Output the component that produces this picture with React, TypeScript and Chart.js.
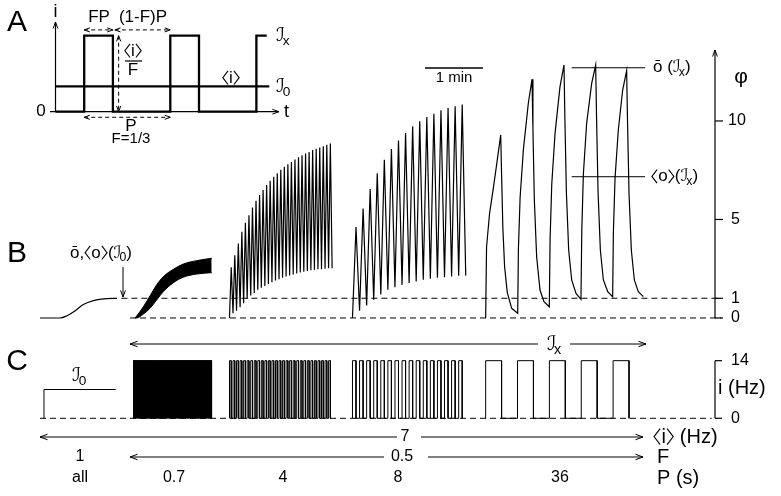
import React, { useEffect, useRef } from "react";
import { Chart, registerables } from "chart.js";
Chart.register(...registerables);

const FONT = '"Liberation Sans", Arial, "DejaVu Sans", sans-serif';

// ---------- Panel A (schematic; t in units of P/3, i in units of <i>) ----------
const A_ONSETS = [1, 4, 7];
const A_FP = 1;
const A_JX = 3;
const A_J0 = 1;
const A_END = 7.36;
const A_J0_END = 7.45;

// ---------- Panel C (stimulus, time in s, rate in Hz) ----------
const C_J0 = [4.5, 85.6];
const C_J0_RATE = 7;
const C_JX_RATE = 14;
const C_F = 0.5;
const C_TRAIN_START = [105.1, 214.1, 353.1, 503.6];
const C_TRAIN_P = [0.7, 4, 8, 36];
const C_TRAIN_N = [128, 29, 16, 5];
const C_BASE = [0, 759];
const C_TICKS = [0, 14];

// ---------- Panel B (response phi) ----------
const B_J0_T = [0, 22.6, 30, 37.7, 49, 60.3, 71.6, 87];
const B_J0_V = [0, 0, 0.1, 0.3, 0.68, 0.88, 0.97, 1.0];

const BAND_T = [107.4, 109.2, 116.8, 124.3, 131.8, 139.4, 150.7, 162, 177, 194];
const BAND_UP = [0, 0.1, 0.57, 1.12, 1.68, 2.1, 2.47, 2.74, 2.91, 3.03];
const BAND_LO = [0, 0, 0.2, 0.49, 0.91, 1.34, 1.79, 2.07, 2.23, 2.3];

const PEAKS_4 = [2.58, 3.18, 3.78, 4.37, 4.83, 5.22, 5.61, 5.95, 6.24, 6.5, 6.75, 6.97, 7.17, 7.35, 7.52, 7.67, 7.8, 7.92, 8.04, 8.16, 8.26, 8.35, 8.43, 8.52, 8.59, 8.65, 8.72, 8.79, 8.86];
const TROUGHS_4 = [0.24, 0.37, 0.54, 0.75, 0.97, 1.14, 1.27, 1.43, 1.53, 1.63, 1.73, 1.82, 1.9, 1.97, 2.04, 2.11, 2.16, 2.21, 2.26, 2.31, 2.35, 2.38, 2.42, 2.45, 2.47, 2.48, 2.5, 2.52, 2.53];

const PEAKS_8 = [4.62, 5.56, 6.55, 7.35, 8.03, 8.57, 9.01, 9.39, 9.73, 9.98, 10.2, 10.37, 10.54, 10.66, 10.75, 10.83];
const TROUGHS_8 = [0.37, 0.63, 0.92, 1.19, 1.43, 1.56, 1.68, 1.77, 1.85, 1.94, 1.99, 2.04, 2.07, 2.11, 2.14, 2.15];

const RESP36_T = [503.6, 504.6, 508, 512.3, 516.5, 520.6, 521.6, 523, 525, 528, 533, 539.8,
  540.6, 542.5, 546.2, 551.8, 556, 557, 558.6, 561.2, 565, 569.5, 575.5,
  576.4, 578.3, 582, 587.6, 592.1, 593.1, 594.8, 597.4, 600.8, 605.7, 611.3,
  612.2, 614, 617.7, 623.4, 627.9, 628.9, 630.6, 633.2, 636.6, 641.5, 647.1,
  647.9, 649.8, 653.5, 658.4, 662.9, 663.9, 665.6, 668.2, 671.6, 676.1, 681.8];
const RESP36_V = [0, 3.6, 5.3, 6.6, 7.95, 9.29, 7.3, 4.6, 2.6, 1.3, 0.49, 0.24,
  3.5, 6.1, 8.53, 10.9, 12.12, 9.6, 6.0, 3.11, 1.42, 0.83, 0.57,
  4.0, 6.8, 9.37, 11.74, 12.84, 10.2, 6.4, 3.45, 1.93, 1.25, 0.95,
  4.4, 7.3, 9.88, 11.91, 12.84, 10.2, 6.4, 3.45, 1.93, 1.34, 1.08,
  4.3, 7.1, 9.54, 11.57, 12.55, 10.0, 6.3, 3.45, 1.93, 1.34, 1.08];

const B_LEVELS = [0, 1];
const B_LEVEL_FROM = [101.7, 92];
const B_LEVEL_TO = 770;
const B_REF_LEVELS = [12.7, 7.17];
const B_REF_SPAN = [600.8, 683.7];
const B_TICKS = [0, 1, 5, 10];
const SCALE_BAR = [435, 500.6];

function squareTrain(start: number, period: number, count: number, amp: number) {
  const pts: any[] = [];
  for (let k = 0; k < count; k++) {
    const on = start + k * period;
    const off = on + period * C_F;
    pts.push({ x: on, y: 0 }, { x: on, y: amp }, { x: off, y: amp }, { x: off, y: 0 });
  }
  return pts;
}

function teeth(start: number, period: number, peaks: number[], troughs: number[]) {
  const pts: any[] = [{ x: start, y: 0 }];
  for (let k = 0; k < peaks.length; k++) {
    const on = start + k * period;
    pts.push({ x: on + period * C_F, y: peaks[k] });
    pts.push({ x: on + period, y: troughs[k] });
  }
  return pts;
}

const zip = (xs: number[], ys: number[]) => xs.map((x, i) => ({ x, y: ys[i] }));

function ds(data: any[], extra: any = {}) {
  return {
    data,
    borderColor: "#000",
    backgroundColor: "#000",
    borderWidth: 1.2,
    pointRadius: 0,
    fill: false,
    tension: 0,
    xAxisID: "x",
    yAxisID: "yB",
    ...extra,
  };
}

const annotPlugin = {
  id: "annot",
  afterDatasetsDraw(chart: any) {
    const ctx = chart.ctx;
    const sc = chart.scales;
    const X = (v: number) => sc.x.getPixelForValue(v);
    const YB = (v: number) => sc.yB.getPixelForValue(v);
    const YC = (v: number) => sc.yC.getPixelForValue(v);
    const XA = (v: number) => sc.xA.getPixelForValue(v);
    const YA = (v: number) => sc.yA.getPixelForValue(v);
    ctx.save();
    ctx.strokeStyle = "#000";
    ctx.fillStyle = "#000";
    const line = (x1: number, y1: number, x2: number, y2: number, w = 1, dash: number[] = []) => {
      ctx.save();
      ctx.lineWidth = w;
      ctx.setLineDash(dash);
      ctx.beginPath();
      ctx.moveTo(x1, y1);
      ctx.lineTo(x2, y2);
      ctx.stroke();
      ctx.restore();
    };
    const head = (x: number, y: number, ang: number, size = 7, w = 1) => {
      ctx.save();
      ctx.lineWidth = w;
      ctx.setLineDash([]);
      ctx.beginPath();
      ctx.moveTo(x - size * Math.cos(ang - 0.35), y - size * Math.sin(ang - 0.35));
      ctx.lineTo(x, y);
      ctx.lineTo(x - size * Math.cos(ang + 0.35), y - size * Math.sin(ang + 0.35));
      ctx.stroke();
      ctx.restore();
    };
    const text = (s: string, x: number, y: number, size: number, align: any = "center") => {
      ctx.font = `${size}px ${FONT}`;
      ctx.textAlign = align;
      ctx.textBaseline = "middle";
      ctx.fillText(s, x, y);
    };
    // rich text: strings, {sub} = script J with subscript, "<" / ">" tokens as angle brackets
    const measure = (p: any, size: number) => {
      if (p === "<" || p === ">") return size * 0.42;
      ctx.font = `${size}px ${FONT}`;
      if (typeof p === "string") return ctx.measureText(p).width;
      const w1 = ctx.measureText("ℐ").width;
      ctx.font = `${size * 0.72}px ${FONT}`;
      return w1 + ctx.measureText(p.sub).width - size * 0.12;
    };
    const rich = (parts: any[], x: number, y: number, size: number, align = "left") => {
      const total = parts.reduce((a, p) => a + measure(p, size), 0);
      let cx = align === "center" ? x - total / 2 : align === "right" ? x - total : x;
      ctx.textAlign = "left";
      ctx.textBaseline = "middle";
      for (const p of parts) {
        const w = measure(p, size);
        ctx.font = `${size}px ${FONT}`;
        if (p === "<" || p === ">") {
          const h = size * 0.4;
          const yc = y - size * 0.02;
          ctx.save();
          ctx.lineWidth = 1.1;
          ctx.beginPath();
          if (p === "<") {
            ctx.moveTo(cx + w * 0.85, yc - h);
            ctx.lineTo(cx + w * 0.12, yc);
            ctx.lineTo(cx + w * 0.85, yc + h);
          } else {
            ctx.moveTo(cx + w * 0.15, yc - h);
            ctx.lineTo(cx + w * 0.88, yc);
            ctx.lineTo(cx + w * 0.15, yc + h);
          }
          ctx.stroke();
          ctx.restore();
        } else if (typeof p === "string") {
          ctx.fillText(p, cx, y);
        } else {
          ctx.fillText("ℐ", cx, y);
          const w1 = ctx.measureText("ℐ").width;
          ctx.font = `${size * 0.72}px ${FONT}`;
          ctx.fillText(p.sub, cx + w1 - size * 0.12, y + size * 0.3);
        }
        cx += w;
      }
    };

    // panel letters
    text("A", 17, 23, 30);
    text("B", 17, 254, 30);
    text("C", 17, 362, 30);

    // ----- Panel A -----
    const ax0 = XA(0), ay0 = YA(0);
    line(ax0, ay0, ax0, 22, 1.2);
    head(ax0, 22, -Math.PI / 2, 7);
    line(50, ay0, 279, ay0, 1.2);
    head(279, ay0, 0, 7);
    text("i", ax0, 12, 18);
    text("0", 41, ay0, 17);
    text("t", 284, ay0, 18, "left");
    const yArr = YA(3.23);
    line(XA(A_ONSETS[0]), yArr, XA(A_ONSETS[0] + A_FP), yArr, 1, [4, 3]);
    head(XA(A_ONSETS[0]), yArr, Math.PI, 6);
    head(XA(A_ONSETS[0] + A_FP), yArr, 0, 6);
    line(XA(A_ONSETS[0] + A_FP) + 2, yArr, XA(A_ONSETS[1]), yArr, 1, [4, 3]);
    head(XA(A_ONSETS[0] + A_FP) + 2, yArr, Math.PI, 6);
    head(XA(A_ONSETS[1]), yArr, 0, 6);
    text("FP", 99, 17, 17);
    text("(1-F)P", 143, 17, 17);
    const xv = XA(2.2);
    line(xv, YA(A_JX), xv, YA(0), 1, [4, 3]);
    head(xv, YA(A_JX), -Math.PI / 2, 6);
    head(xv, YA(0), Math.PI / 2, 6);
    rich(["<", "i", ">"], 133, 51, 17, "center");
    line(125, 61, 142, 61, 1.2);
    text("F", 133, 70, 17);
    const yP = YA(-0.22);
    line(XA(A_ONSETS[0]), yP, XA(A_ONSETS[1]), yP, 1, [4, 3]);
    head(XA(A_ONSETS[0]), yP, Math.PI, 6);
    head(XA(A_ONSETS[1]), yP, 0, 6);
    text("P", 131, 126, 17);
    text("F=1/3", 131, 139, 15);
    rich(["<", "i", ">"], 231, 78, 17, "center");
    rich([{ sub: "x" }], 276, YA(A_JX), 19);
    rich([{ sub: "0" }], 276, YA(A_J0), 19);

    // ----- Panel B axis -----
    const bx = 715;
    line(bx, YB(0), bx, 50, 1.2);
    head(bx, 50, -Math.PI / 2, 7);
    for (const t of B_TICKS) {
      line(bx, YB(t), bx + 8, YB(t), 1.2);
      text(String(t), t >= 10 ? 728 : 731, YB(t), 16, "left");
    }
    text("φ", 741, 77, 21);
    // scale bar
    line(X(SCALE_BAR[0]), 68, X(SCALE_BAR[1]), 68, 1.4);
    text("1 min", (X(SCALE_BAR[0]) + X(SCALE_BAR[1])) / 2, 78, 15);
    // labels
    rich(["ō,", "<", "o", ">", "(", { sub: "0" }, ")"], 101, 253, 17, "center");
    line(123, 267, 123, 297, 1);
    head(123, 297, Math.PI / 2, 7);
    rich(["ō (", { sub: "x" }, ")"], 653, YB(B_REF_LEVELS[0]), 17);
    rich(["<", "o", ">", "(", { sub: "x" }, ")"], 651, YB(B_REF_LEVELS[1]), 17);

    // ----- Panel C axis -----
    line(bx, YC(0), bx, YC(14), 1.2);
    for (const t of C_TICKS) {
      line(bx, YC(t), bx + 7, YC(t), 1.2);
      text(String(t), 731, YC(t), 16, "left");
    }
    text("i (Hz)", 718, (YC(0) + YC(14)) / 2 - 1, 20, "left");
    rich([{ sub: "0" }], 72, 376, 19);

    // ----- arrows rows -----
    const r1 = 344;
    line(130, r1, 538, r1, 1);
    line(570, r1, 646, r1, 1);
    head(130, r1, Math.PI, 8);
    head(646, r1, 0, 8);
    rich([{ sub: "x" }], 554, r1, 20, "center");

    const r2 = 437;
    line(40, r2, 397, r2, 1);
    line(421, r2, 643, r2, 1);
    head(40, r2, Math.PI, 8);
    head(643, r2, 0, 8);
    text("7", 405, r2, 16);
    rich(["<", "i", ">", " (Hz)"], 653, r2, 20, "left");

    const r3 = 457;
    line(130, r3, 384, r3, 1);
    line(428, r3, 643, r3, 1);
    head(130, r3, Math.PI, 8);
    head(643, r3, 0, 8);
    text("0.5", 402, r3, 16);
    text("F", 657, r3, 20, "left");
    text("1", 80, r3, 16);

    const r4 = 478;
    text("all", 80, r4, 16);
    text("0.7", 174, r4, 16);
    text("4", 283, r4, 16);
    text("8", 398, r4, 16);
    text("36", 560, r4, 16);
    text("P (s)", 657, r4, 20, "left");

    ctx.restore();
  },
};

export default function App() {
  const ref = useRef<HTMLCanvasElement | null>(null);
  useEffect(() => {
    if (!ref.current) return;
    // panel A data
    const aTrain: any[] = [{ x: 0, y: 0 }];
    A_ONSETS.forEach((on) => {
      const off = Math.min(on + A_FP, A_END);
      aTrain.push({ x: on, y: 0 }, { x: on, y: A_JX }, { x: off, y: A_JX });
      if (on + A_FP <= A_END) aTrain.push({ x: off, y: 0 });
    });

    // envelope of the fastest (0.7 s) train, which prints as a solid block
    const fastEnd = C_TRAIN_START[0] + C_TRAIN_P[0] * (C_TRAIN_N[0] - 1) + C_TRAIN_P[0] * C_F;

    const datasets: any[] = [
      // Panel A
      ds(aTrain, { xAxisID: "xA", yAxisID: "yA", borderWidth: 2.3 }),
      ds([{ x: 0, y: A_J0 }, { x: A_J0_END, y: A_J0 }], { xAxisID: "xA", yAxisID: "yA", borderWidth: 2.3 }),
      // Panel B dashed levels
      ...B_LEVELS.map((lv, i) =>
        ds([{ x: B_LEVEL_FROM[i], y: lv }, { x: B_LEVEL_TO, y: lv }], { borderWidth: 1, borderDash: [6, 4] })
      ),
      // Panel B traces
      ds(zip(B_J0_T, B_J0_V), { cubicInterpolationMode: "monotone" }),
      ds(zip(BAND_T, BAND_UP), { cubicInterpolationMode: "monotone", borderWidth: 1 }),
      ds(zip(BAND_T, BAND_LO), { cubicInterpolationMode: "monotone", borderWidth: 1, fill: "-1" }),
      ds(teeth(C_TRAIN_START[1], C_TRAIN_P[1], PEAKS_4, TROUGHS_4), { borderWidth: 1.2 }),
      ds(teeth(C_TRAIN_START[2], C_TRAIN_P[2], PEAKS_8, TROUGHS_8), { borderWidth: 1.2 }),
      ds(zip(RESP36_T, RESP36_V), { borderWidth: 1.2 }),
      ...B_REF_LEVELS.map((lv) => ds([{ x: B_REF_SPAN[0], y: lv }, { x: B_REF_SPAN[1], y: lv }], { borderWidth: 1 })),
      // Panel C
      ds([{ x: C_BASE[0], y: 0 }, { x: C_BASE[1], y: 0 }], { yAxisID: "yC", borderWidth: 1, borderDash: [6, 4] }),
      ds(
        [{ x: C_J0[0], y: 0 }, { x: C_J0[0], y: C_J0_RATE }, { x: C_J0[1], y: C_J0_RATE }],
        { yAxisID: "yC", borderWidth: 1 }
      ),
      ds(
        [{ x: C_TRAIN_START[0], y: C_JX_RATE }, { x: fastEnd, y: C_JX_RATE }],
        { yAxisID: "yC", borderWidth: 1, fill: "origin" }
      ),
      ...C_TRAIN_START.map((st, i) =>
        ds(squareTrain(st, C_TRAIN_P[i], C_TRAIN_N[i], C_JX_RATE), { yAxisID: "yC", borderWidth: 1 })
      ),
    ];

    const chart = new Chart(ref.current, {
      type: "line",
      data: { datasets },
      options: {
        animation: false,
        responsive: false,
        maintainAspectRatio: false,
        events: [],
        layout: { padding: 0 },
        plugins: { legend: { display: false }, tooltip: { enabled: false }, title: { display: false } },
        scales: {
          x: { type: "linear", display: false, bounds: "data", min: -45.2, max: 837.33 },
          yB: { type: "linear", display: false, bounds: "data", min: -9.036, max: 16.14 },
          yC: { type: "linear", display: false, bounds: "data", min: -18.89, max: 101.67 },
          xA: { type: "linear", display: false, bounds: "data", min: -1.934, max: 25.28 },
          yA: { type: "linear", display: false, bounds: "data", min: -15.17, max: 4.41 },
        },
      } as any,
      plugins: [annotPlugin],
    });
    return () => chart.destroy();
  }, []);
  return (
    <div style={{ position: "absolute", left: 0, top: 0, width: 781, height: 496, background: "#fff" }}>
      <canvas ref={ref} width={781} height={496} style={{ display: "block" }} />
    </div>
  );
}
